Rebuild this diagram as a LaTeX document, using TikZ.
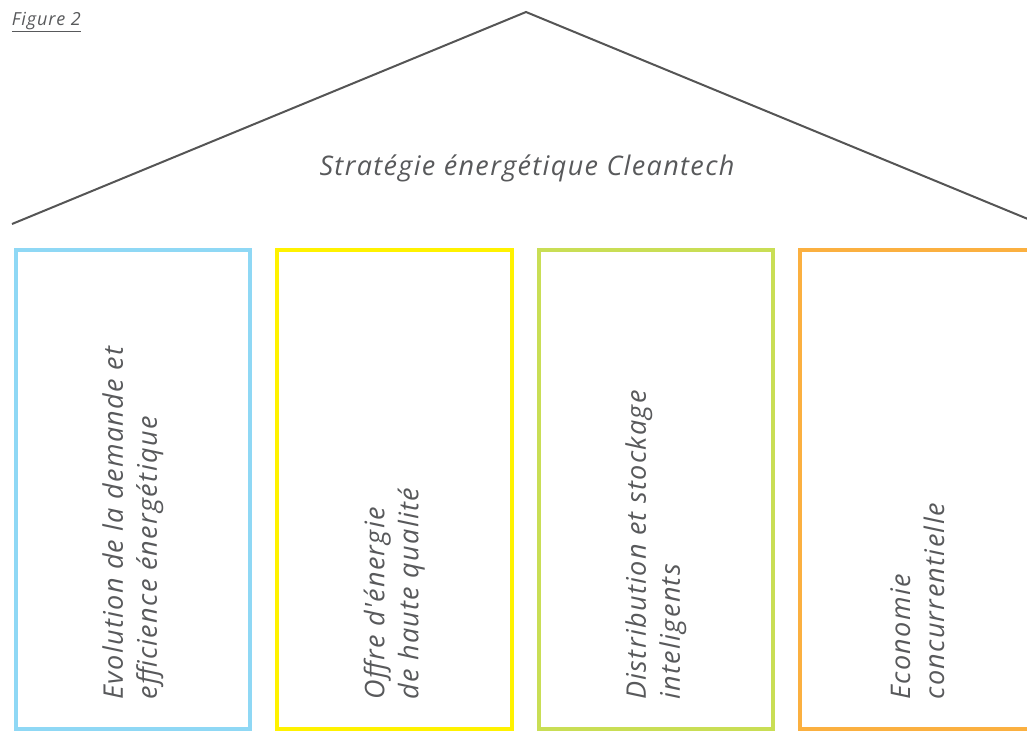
\documentclass[tikz,border=0pt]{standalone}
\usepackage{fontspec}
\setmainfont{Open Sans}
\newfontfamily\spaced[LetterSpace=5]{Open Sans}
\usepackage{xcolor}
\definecolor{Ink}{HTML}{58595B}
\definecolor{Roof}{HTML}{555555}
\definecolor{Sky}{HTML}{8FD8F5}
\definecolor{Lemon}{HTML}{FFF200}
\definecolor{Lime}{HTML}{C9DE55}
\definecolor{Amber}{HTML}{FBB040}
\colorlet{ink}{Ink}
\colorlet{roof}{Roof}
\colorlet{sky}{Sky}
\colorlet{lemon}{Lemon}
\colorlet{lime}{Lime}
\colorlet{amber}{Amber}
\usepackage{tikz}
\usetikzlibrary{positioning}

\begin{document}
\begin{tikzpicture}[x=1pt,y=-1pt,node distance=27pt,every node/.style={font=\spaced\itshape,text=ink,inner sep=0pt,outer sep=0pt},
  pillar/.style={draw,line width=4pt,minimum width=234.5pt,minimum height=479pt},
  pillartext/.style={rotate=90,anchor=west,align=left,font=\spaced\itshape\fontsize{27}{34}\selectfont}]
\clip (0,0) rectangle (1027,740);
% roof
\coordinate (eaveL) at (12,224);
\coordinate (peak) at (526,12);
\coordinate (eaveR) at (1040,224);
\draw[roof,line width=2pt,line join=miter] (eaveL)--(peak)--(eaveR);
\node[font=\spaced\itshape\fontsize{27}{30}\selectfont] (title) at (527,168) {Strat\'egie \'energ\'etique Cleantech};
\node[font=\spaced\itshape\fontsize{18}{20}\selectfont,anchor=west] (fig) at (12,22) {\underline{Figure 2}};
% pillars
\node[pillar,draw=sky] (p1) at (132.75,489) {};
\node[pillar,draw=lemon,right=of p1] (p2) {};
\node[pillar,draw=lime,right=of p2] (p3) {};
\node[pillar,draw=amber,right=of p3] (p4) {};
\node[pillartext] (t1) at ([yshift=29pt]p1.south) {Evolution de la demande et\\efficience \'energ\'etique};
\node[pillartext] (t2) at ([yshift=29pt]p2.south) {Offre d'\'energie\\ de haute qualit\'e};
\node[pillartext] (t3) at ([yshift=29pt]p3.south) {Distribution et stockage\\inteligents};
\node[pillartext] (t4) at ([yshift=29pt]p4.south) {Economie\\ concurrentielle};
\end{tikzpicture}
\end{document}
